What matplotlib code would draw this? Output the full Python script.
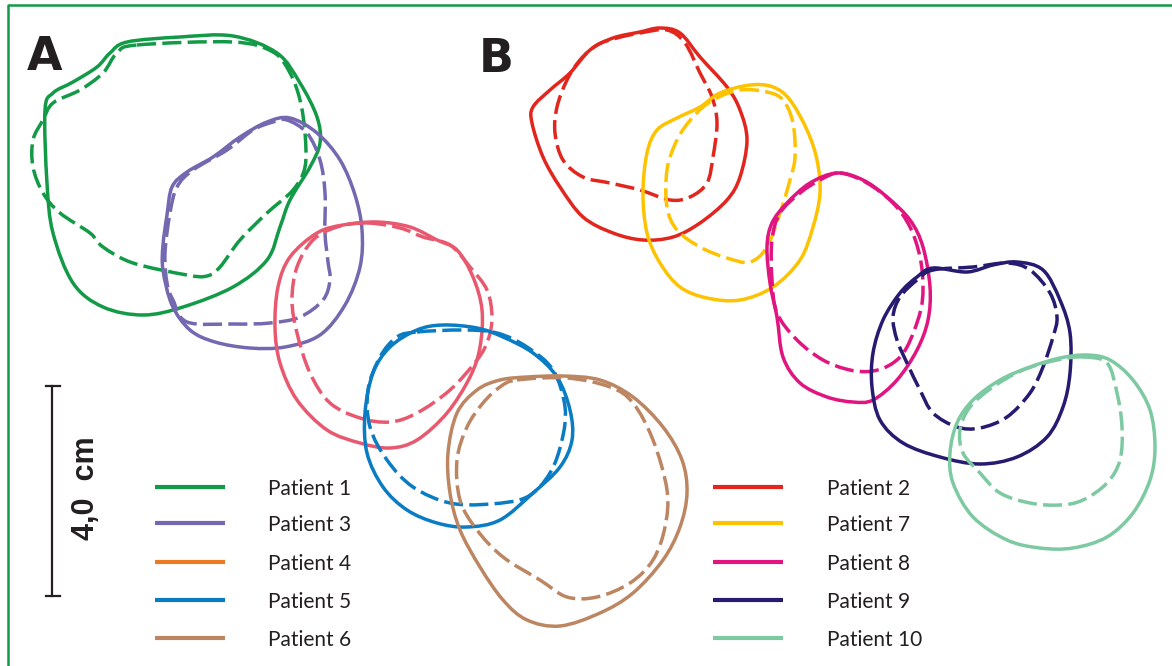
import numpy as np
import matplotlib
matplotlib.use('Agg')
import matplotlib.pyplot as plt
from matplotlib.path import Path
from matplotlib.patches import PathPatch

# outline points (x, y), image pixel coordinates
p1_solid = [(127, 42), (180, 37), (233, 36), (277, 53), (300, 83), (317, 117), (320, 143),
            (310, 167), (290, 200), (280, 227), (267, 260), (233, 287), (183, 307),
            (143, 315), (103, 307), (73, 283), (53, 233), (47, 183), (45, 110),
            (53, 93), (73, 82), (97, 67), (110, 53)]
p1_dashed = [(137, 45), (233, 42), (273, 52), (290, 73), (300, 100), (305, 133), (305, 167),
             (293, 190), (267, 213), (240, 240), (220, 267), (207, 276), (187, 275),
             (133, 263), (103, 247), (90, 233), (60, 213), (43, 193), (33, 167),
             (33, 140), (43, 120), (53, 103), (80, 90), (103, 73), (117, 53)]

p3_solid = [(290, 118), (317, 133), (340, 160), (355, 195), (362, 230), (360, 267),
            (345, 305), (320, 335), (285, 347), (250, 348), (215, 342), (190, 330),
            (172, 305), (163, 270), (163, 245), (167, 215), (172, 187), (187, 172),
            (213, 157), (240, 137), (267, 122)]
p3_dashed = [(287, 120), (307, 133), (320, 160), (325, 193), (325, 233), (328, 262),
             (330, 280), (323, 300), (300, 317), (270, 323), (233, 324), (187, 322),
             (173, 300), (167, 283), (165, 253), (170, 213), (177, 187), (193, 170),
             (227, 150), (253, 130), (273, 122)]

p4_solid = [(377, 222), (410, 227), (437, 240), (457, 250), (473, 277), (482, 310),
            (480, 347), (470, 377), (447, 413), (417, 440), (390, 448), (360, 443),
            (327, 430), (297, 400), (280, 363), (275, 327), (278, 287), (290, 257),
            (317, 233), (343, 225)]
p4_dashed = [(367, 223), (400, 228), (423, 237), (450, 245), (470, 267), (487, 290),
             (492, 317), (488, 340), (477, 360), (450, 390), (417, 413), (390, 422),
             (360, 418), (330, 403), (310, 373), (297, 333), (292, 300), (297, 267),
             (313, 240), (337, 227)]

p5_solid = [(443, 325), (477, 328), (503, 337), (533, 353), (557, 377), (570, 410),
            (572, 440), (560, 467), (533, 493), (500, 520), (467, 527), (437, 523),
            (407, 510), (383, 487), (367, 453), (365, 413), (373, 373), (390, 347),
            (417, 330)]
p5_dashed = [(417, 332), (463, 330), (497, 333), (527, 347), (553, 370), (565, 407),
             (562, 440), (550, 473), (527, 497), (490, 504), (450, 503), (413, 487),
             (387, 460), (370, 427), (368, 390), (380, 357), (397, 337)]

p6_solid = [(527, 377), (563, 376), (600, 380), (633, 397), (663, 427), (682, 460),
            (687, 493), (680, 527), (663, 560), (633, 593), (600, 613), (560, 626),
            (527, 620), (503, 600), (480, 567), (460, 530), (450, 493), (448, 453),
            (457, 413), (477, 390), (500, 380)]
p6_dashed = [(517, 380), (567, 378), (610, 387), (633, 403), (653, 440), (667, 490),
             (665, 527), (653, 560), (630, 583), (597, 597), (567, 597), (540, 580),
             (503, 557), (477, 530), (460, 500), (457, 460), (467, 427), (483, 403),
             (500, 387)]

p2_solid = [(660, 28), (680, 33), (700, 57), (727, 87), (740, 110), (747, 140),
            (740, 177), (727, 200), (700, 223), (673, 237), (643, 240), (613, 233),
            (583, 217), (560, 187), (543, 157), (532, 123), (533, 107), (550, 90),
            (570, 73), (590, 50), (613, 38), (640, 32)]
p2_dashed = [(640, 33), (667, 30), (685, 43), (700, 73), (712, 97), (717, 123),
             (713, 157), (707, 183), (690, 197), (670, 200), (640, 190), (610, 183),
             (583, 177), (563, 160), (555, 133), (557, 107), (567, 80), (580, 60),
             (597, 45), (617, 38)]

p7_solid = [(750, 85), (773, 87), (790, 100), (807, 130), (817, 160), (820, 193),
            (813, 227), (800, 260), (773, 287), (740, 300), (707, 298), (680, 287),
            (660, 263), (647, 233), (643, 193), (647, 153), (657, 130), (677, 118),
            (700, 107), (720, 93)]
p7_dashed = [(740, 90), (767, 92), (783, 100), (793, 123), (795, 157), (790, 180),
             (780, 213), (767, 247), (750, 262), (727, 258), (700, 247), (677, 230),
             (667, 207), (667, 170), (677, 140), (693, 117), (713, 100)]

p8_solid = [(837, 173), (863, 180), (887, 197), (910, 220), (923, 247), (930, 287),
            (928, 320), (917, 350), (897, 380), (873, 400), (853, 402), (827, 397),
            (800, 383), (783, 357), (777, 317), (770, 283), (767, 247), (772, 223),
            (787, 203), (810, 183)]
p8_dashed = [(840, 173), (867, 183), (893, 203), (910, 227), (920, 257), (923, 287),
             (920, 313), (907, 347), (893, 363), (873, 371), (850, 370), (823, 360),
             (797, 340), (777, 313), (772, 280), (772, 240), (780, 213), (800, 193),
             (820, 180)]

p9_solid = [(933, 268), (967, 272), (993, 265), (1017, 262), (1043, 270), (1060, 300),
            (1070, 333), (1070, 373), (1063, 407), (1047, 437), (1017, 457), (980, 464),
            (940, 457), (903, 443), (880, 420), (872, 387), (873, 353), (883, 320),
            (900, 293), (917, 277)]
p9_dashed = [(933, 270), (973, 267), (1007, 263), (1030, 270), (1050, 293), (1057, 317),
             (1053, 337), (1043, 367), (1030, 393), (1007, 417), (980, 428), (957, 427),
             (933, 413), (920, 390), (907, 363), (897, 340), (893, 317), (900, 297),
             (917, 280)]

p10_solid = [(1087, 355), (1110, 360), (1133, 380), (1150, 410), (1155, 447), (1150, 480),
             (1133, 513), (1107, 537), (1073, 548), (1040, 548), (1007, 540), (973, 517),
             (953, 483), (950, 453), (957, 423), (973, 400), (1000, 380), (1030, 367),
             (1060, 358)]
p10_dashed = [(1083, 357), (1107, 363), (1117, 393), (1122, 427), (1120, 460), (1107, 483),
              (1083, 500), (1060, 505), (1030, 503), (1000, 493), (980, 473), (963, 453),
              (960, 430), (970, 407), (993, 387), (1023, 370), (1057, 360)]

legend_a_labels = ['Patient 1', 'Patient 3', 'Patient 4', 'Patient 5', 'Patient 6']
legend_a_colors = ['#129a47', '#7468b0', '#ea7a23', '#0a7cc4', '#bd8662']
legend_b_labels = ['Patient 2', 'Patient 7', 'Patient 8', 'Patient 9', 'Patient 10']
legend_b_colors = ['#e2261d', '#fdc300', '#e0157f', '#261b70', '#7dc9a1']
legend_rows_y = [487, 523, 562, 600, 638]

outlines = [
    (p1_solid, p1_dashed, '#129a47'),
    (p3_solid, p3_dashed, '#7468b0'),
    (p4_solid, p4_dashed, '#e8596f'),
    (p5_solid, p5_dashed, '#0a7cc4'),
    (p6_solid, p6_dashed, '#bd8662'),
    (p2_solid, p2_dashed, '#e2261d'),
    (p7_solid, p7_dashed, '#fdc300'),
    (p8_solid, p8_dashed, '#e0157f'),
    (p9_solid, p9_dashed, '#261b70'),
    (p10_solid, p10_dashed, '#7dc9a1'),
]

TEXT = '#231f20'


def closed_curve(points):
    # closed Catmull-Rom through the points, written as cubic bezier segments
    p = np.asarray(points, dtype=float)
    n = len(p)
    verts = [p[0]]
    codes = [Path.MOVETO]
    for i in range(n):
        p0, p1, p2, p3 = p[i - 1], p[i], p[(i + 1) % n], p[(i + 2) % n]
        verts += [p1 + (p2 - p0) / 6, p2 - (p3 - p1) / 6, p2]
        codes += [Path.CURVE4] * 3
    return Path(verts, codes)


fig = plt.figure(figsize=(11.72, 6.66), dpi=100)
ax = fig.add_axes([0, 0, 1, 1])
ax.set_xlim(0, 1172)
ax.set_ylim(666, 0)
ax.axis('off')

# green frame (top and left edges visible)
ax.plot([8, 8, 1172], [666, 5, 5], color='#129a47', lw=1.8, solid_capstyle='butt')

for solid, dashed, color in outlines:
    ax.add_patch(PathPatch(closed_curve(solid), fill=False, edgecolor=color, lw=2.5))
    ax.add_patch(PathPatch(closed_curve(dashed), fill=False, edgecolor=color, lw=2.5,
                           linestyle=(0, (5.5, 1.8))))

ax.text(27, 70, 'A', fontsize=33, fontweight='heavy', family='DejaVu Sans',
        color=TEXT, va='baseline', ha='left')
ax.text(479, 72, 'B', fontsize=33, fontweight='heavy', family='DejaVu Sans',
        color=TEXT, va='baseline', ha='left')

# scale bar
ax.plot([52, 52], [386, 596], color=TEXT, lw=1.6)
ax.plot([46, 60], [386, 386], color=TEXT, lw=1.6)
ax.plot([46, 60], [596, 596], color=TEXT, lw=1.6)
ax.text(86, 488, '4,0  cm', rotation=90, fontsize=22, fontweight='bold',
        family='Liberation Sans', color=TEXT, ha='center', va='center')

for x0, x1, tx, labels, colors in [(155, 225, 268, legend_a_labels, legend_a_colors),
                                   (713, 783, 827, legend_b_labels, legend_b_colors)]:
    for y, lab, col in zip(legend_rows_y, labels, colors):
        ax.plot([x0, x1], [y, y], color=col, lw=3, solid_capstyle='butt')
        ax.text(tx, y + 8, lab, fontsize=15, family='Lato', color=TEXT,
                va='baseline', ha='left')

fig.savefig('out.png', dpi=100)
